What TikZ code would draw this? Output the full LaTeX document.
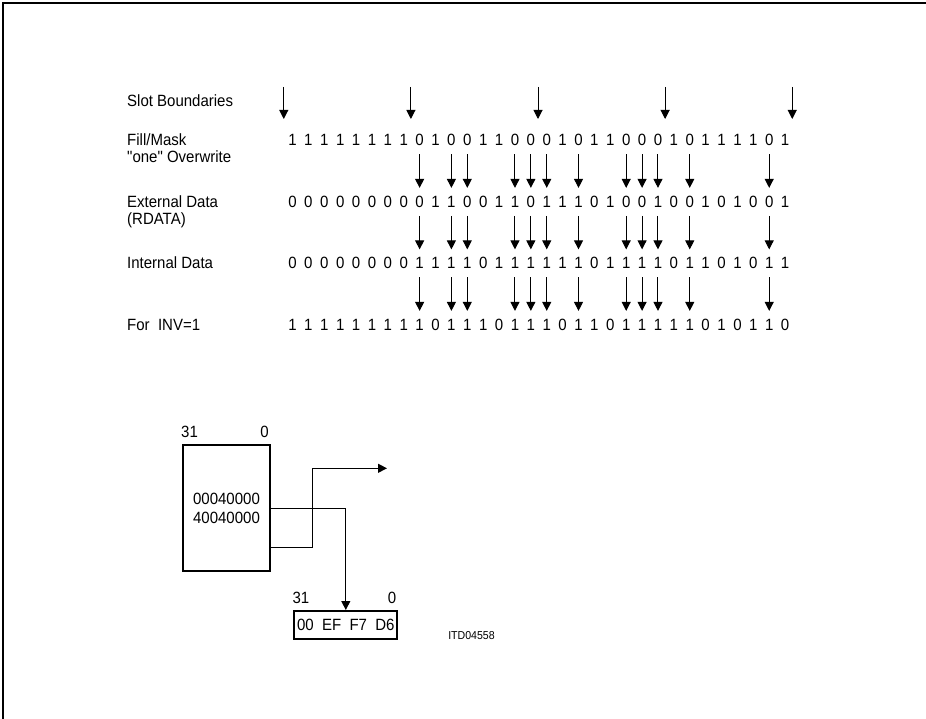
\documentclass[tikz,border=0pt]{standalone}
\usepackage{fontspec}
\newfontfamily\diagfont{Liberation Sans}[FakeStretch=0.92]
\usepackage{tikz}
\usetikzlibrary{arrows.meta,calc,positioning}

\newcommand{\rowfont}{\diagfont\fontsize{16.3}{19}\selectfont}

\begin{document}
\begin{tikzpicture}[
  x=1pt,y=-1pt,
  lbl/.style={anchor=base west,inner sep=0pt,font=\rowfont},
  bit/.style={anchor=base,inner sep=0pt,font=\rowfont},
  arr/.style={-{Triangle[length=9pt,width=9pt]},line width=1pt},
  down/.style={arr,shorten <=14pt,shorten >=14pt},
  regbox/.style={draw,line width=2pt,align=center,font=\rowfont},
  idx/.style={inner sep=0pt,font=\rowfont}
]
  \useasboundingbox (0,0) rectangle (926,719);
  \draw[line width=1.2pt] (3,719) -- (3,3) -- (926,3);

  % row labels
  \node[lbl] (lab-slot) at (127,107)   {Slot Boundaries};
  \node[lbl] (lab-fm)   at (127,146)   {Fill/Mask};
  \node[lbl] (lab-fm2)  at (127,162.5) {"one" Overwrite};
  \node[lbl] (lab-ext)  at (127,207.5) {External Data};
  \node[lbl] (lab-ext2) at (127,225)   {(RDATA)};
  \node[lbl] (lab-int)  at (127,269)   {Internal Data};
  \node[lbl] (lab-inv)  at (127,330.5) {For\ \ INV=1};

  % bit rows
  \foreach \b [count=\i from 0] in {1,1,1,1,1,1,1,1,0,1,0,0,1,1,0,0,0,1,0,1,1,0,0,0,1,0,1,1,1,1,0,1}
    \node[bit] (fm-\i) at ({292.5+15.89*\i},146) {\b};
  \foreach \b [count=\i from 0] in {0,0,0,0,0,0,0,0,0,1,1,0,0,1,1,0,1,1,1,0,1,0,0,1,0,0,1,0,1,0,0,1}
    \node[bit] (ext-\i) at ({292.5+15.89*\i},207.5) {\b};
  \foreach \b [count=\i from 0] in {0,0,0,0,0,0,0,0,1,1,1,1,0,1,1,1,1,1,1,0,1,1,1,1,0,1,1,0,1,0,1,1}
    \node[bit] (int-\i) at ({292.5+15.89*\i},269) {\b};
  \foreach \b [count=\i from 0] in {1,1,1,1,1,1,1,1,1,0,1,1,1,0,1,1,1,0,1,1,0,1,1,1,1,1,0,1,0,1,1,0}
    \node[bit] (inv-\i) at ({292.5+15.89*\i},330.5) {\b};

  % slot boundaries
  \foreach \k in {0,...,4} {
    \coordinate (sb-\k-top) at ({292.5+15.89*(8*\k-0.55)},87);
    \coordinate (sb-\k-bot) at ({292.5+15.89*(8*\k-0.55)},119);
    \draw[arr] (sb-\k-top) -- (sb-\k-bot);
  }

  % overwritten bits
  \foreach \i in {8,10,11,14,15,16,18,21,22,23,25,30} {
    \draw[down] (fm-\i.center) -- (ext-\i.center);
    \draw[down] (ext-\i.center) -- (int-\i.center);
    \draw[down] (int-\i.center) -- (inv-\i.center);
  }

  % registers
  \node[regbox,minimum width=87pt,minimum height=126pt] (reg) at (226.5,508)
    {00040000\\40040000};
  \node[idx,above right=6pt and -1pt of reg.north west,anchor=south west] (reg-hi) {31};
  \node[idx,above left=6pt and 2pt of reg.north east,anchor=south east] (reg-lo) {0};

  \node[regbox,minimum width=103pt,minimum height=28pt,inner sep=0pt] (res) at (345.8,625)
    {00\ \ EF\ \ F7\ \ D6};
  \node[idx,above right=6pt and -1pt of res.north west,anchor=south west] (res-hi) {31};
  \node[idx,above left=6pt and 2pt of res.north east,anchor=south east] (res-lo) {0};

  \node[inner sep=0pt,font=\diagfont\fontsize{11.5}{13}\selectfont] (code) at (471.5,636) {ITD04558};

  \coordinate (out) at (387,468.3);
  \draw[arr] (reg.east) -| (res.north);
  \draw[arr] ([yshift=-39pt]reg.east) -| ([xshift=-75pt]out) -- (out);
\end{tikzpicture}
\end{document}
